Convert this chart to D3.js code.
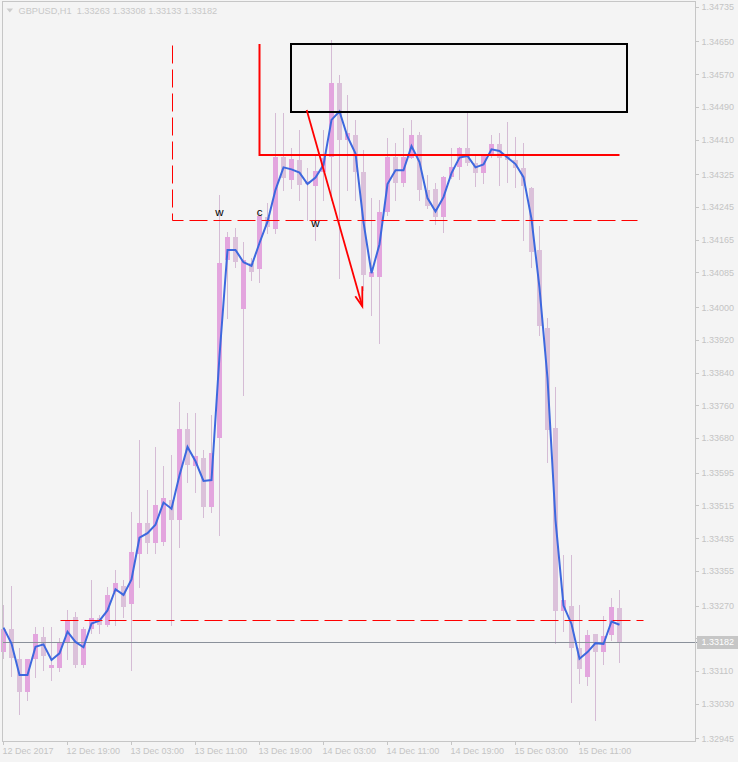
<!DOCTYPE html>
<html>
<head>
<meta charset="utf-8">
<script src="https://cdn.jsdelivr.net/npm/d3@7"></script>
<style>
  html, body { margin: 0; padding: 0; background: #f4f4f4; }
  svg { display: block; }
  text { font-family: "Liberation Sans", Arial, sans-serif; }
</style>
</head>
<body>
<script>
// GBPUSD H1, one bar per hour starting 12 Dec 2017 11:00
const opens = [
  1.33156,1.33212,1.33139,1.33058,1.33139,1.33193,1.33117,1.33117,1.33181,1.33242,
  1.33124,1.33212,1.33239,1.33222,1.33303,1.33318,1.33274,1.33396,1.33472,1.33423,
  1.33425,1.33528,1.33479,1.33702,1.33611,1.33631,1.33511,1.33680,1.34115,1.34172,
  1.33995,1.34108,1.34093,1.34221,1.34191,1.34367,1.34311,1.34360,1.34309,1.34296,
  1.34331,1.34367,1.34548,1.34409,1.34421,1.34331,1.34074,1.34074,1.34233,1.34367,
  1.34303,1.34365,1.34421,1.34287,1.34289,1.34221,1.34318,1.34343,1.34389,1.34353,
  1.34328,1.34370,1.34399,1.34372,1.34360,1.34340,1.34291,1.34140,1.33949,1.33704,
  1.33256,1.33269,1.33166,1.33095,1.33200,1.33156,1.33198,1.33263
];
const highs = [
  1.33271,1.33318,1.33166,1.33139,1.33217,1.33217,1.33217,1.33190,1.33259,1.33254,
  1.33217,1.33332,1.33247,1.33315,1.33357,1.33332,1.33499,1.33675,1.33553,1.33658,
  1.33611,1.33638,1.33768,1.33741,1.33741,1.33650,1.33736,1.34274,1.34184,1.34194,
  1.34159,1.34120,1.34230,1.34255,1.34475,1.34475,1.34389,1.34433,1.34340,1.34372,
  1.34433,1.34654,1.34568,1.34519,1.34458,1.34384,1.34267,1.34262,1.34414,1.34401,
  1.34438,1.34458,1.34428,1.34323,1.34304,1.34321,1.34389,1.34392,1.34475,1.34370,
  1.34372,1.34421,1.34426,1.34453,1.34416,1.34401,1.34294,1.34199,1.33973,1.33804,
  1.33393,1.33393,1.33271,1.33210,1.33200,1.33244,1.33288,1.33308
];
const lows = [
  1.33141,1.33097,1.33004,1.33039,1.33095,1.33112,1.33088,1.33110,1.33139,1.33119,
  1.33119,1.33203,1.33203,1.33220,1.33222,1.33242,1.33112,1.33315,1.33398,1.33398,
  1.33418,1.33222,1.33413,1.33572,1.33548,1.33486,1.33499,1.33442,1.33973,1.34098,
  1.33785,1.34066,1.34061,1.34181,1.34181,1.34287,1.34291,1.34262,1.34213,1.34164,
  1.34262,1.34262,1.34071,1.34287,1.34262,1.34042,1.33981,1.33912,1.34225,1.34262,
  1.34296,1.34365,1.34262,1.34242,1.34203,1.34184,1.34316,1.34313,1.34348,1.34296,
  1.34304,1.34367,1.34299,1.34306,1.34294,1.34164,1.34098,1.33932,1.33621,1.33178,
  1.33208,1.33034,1.33080,1.33075,1.32990,1.33127,1.33186,1.33133
];
const closes = [
  1.33212,1.33141,1.33058,1.33139,1.33200,1.33146,1.33124,1.33181,1.33234,1.33124,
  1.33212,1.33239,1.33222,1.33296,1.33325,1.33266,1.33401,1.33472,1.33423,1.33516,
  1.33533,1.33479,1.33702,1.33614,1.33636,1.33511,1.33643,1.34108,1.34172,1.34110,
  1.34115,1.34086,1.34223,1.34196,1.34367,1.34316,1.34362,1.34299,1.34301,1.34333,
  1.34365,1.34548,1.34409,1.34426,1.34331,1.34079,1.34086,1.34233,1.34367,1.34303,
  1.34367,1.34421,1.34287,1.34247,1.34221,1.34318,1.34343,1.34389,1.34353,1.34328,
  1.34372,1.34399,1.34365,1.34360,1.34340,1.34296,1.34135,1.33954,1.33699,1.33256,
  1.33283,1.33166,1.33115,1.33198,1.33156,1.33195,1.33266,1.33182
];
// blue moving average line
const maLine = [
  1.33216,1.33177,1.33100,1.33100,1.33169,1.33175,1.33137,1.33153,1.33206,1.33181,
  1.33168,1.33226,1.33233,1.33258,1.33310,1.33296,1.33334,1.33436,1.33447,1.33468,
  1.33522,1.33507,1.33589,1.33658,1.33623,1.33575,1.33577,1.33881,1.34140,1.34140,
  1.34110,1.34101,1.34157,1.34209,1.34287,1.34342,1.34337,1.34329,1.34301,1.34317,
  1.34348,1.34458,1.34479,1.34417,1.34376,1.34208,1.34083,1.34154,1.34301,1.34335,
  1.34335,1.34394,1.34355,1.34267,1.34234,1.34269,1.34328,1.34366,1.34370,1.34342,
  1.34349,1.34386,1.34382,1.34366,1.34350,1.34318,1.34216,1.34047,1.33826,1.33479,
  1.33270,1.33225,1.33140,1.33156,1.33178,1.33176,1.33231,1.33223
];

const priceLabels = [
  "1.34735","1.34650","1.34570","1.34490","1.34410","1.34325","1.34245","1.34165",
  "1.34085","1.34000","1.33920","1.33840","1.33760","1.33680","1.33595","1.33515",
  "1.33435","1.33355","1.33270","1.33190","1.33110","1.33030","1.32945"
];
const timeTickBars = [0, 8, 16, 24, 32, 40, 48, 56, 64, 72];
const timeLabels = [
  "12 Dec 2017","12 Dec 19:00","13 Dec 03:00","13 Dec 11:00","13 Dec 19:00",
  "14 Dec 03:00","14 Dec 11:00","14 Dec 19:00","15 Dec 03:00","15 Dec 11:00"
];

const bidPrice = 1.33182;
const headerText = "GBPUSD,H1  1.33263 1.33308 1.33133 1.33182";

// drawn objects, as [bar, price] anchors
const zoneBox = [[36, 1.34644], [78, 1.34477]];
const solidLevel = [[32, 1.34644], [32, 1.34371], [77, 1.34371]];
const dashedUpper = [[21.1, 1.34641], [21.1, 1.34213], [79.2, 1.34213]];
const dashedLower = [[7, 1.33235], [80, 1.33235]];
const arrowLine = [[37.9, 1.34482], [44.85, 1.34002]];
const waveText = ["w", "c", "w"];
const waveAnchors = [[27, 1.34224], [32, 1.34224], [39, 1.34195]];

const width = 738, height = 762;
const plotRight = 695, plotBottom = 741;

const svg = d3.select("body").append("svg")
  .attr("width", width)
  .attr("height", height);

svg.append("rect")
  .attr("width", width).attr("height", height)
  .attr("fill", "#f4f4f4");

const x = d3.scaleLinear().domain([0, 86]).range([3.5, 3.5 + 8 * 86]);
const y = d3.scaleLinear().domain([1.32945, 1.34735]).range([738.4, 6.7]);

// snap to pixel centre for 1px lines
const snap = v => Math.round(v) + 0.5;

const bars = opens.map((o, i) => ({ i, o, h: highs[i], l: lows[i], c: closes[i] }));

const plot = svg.append("g").attr("shape-rendering", "crispEdges");

// wicks
plot.selectAll("rect.wick")
  .data(bars)
  .join("rect")
  .attr("class", "wick")
  .attr("x", d => Math.floor(x(d.i)))
  .attr("width", 1)
  .attr("y", d => Math.round(y(d.h)))
  .attr("height", d => Math.round(y(d.l)) - Math.round(y(d.h)) + 1)
  .attr("fill", "#d5bcd5");

// bodies
plot.selectAll("rect.body")
  .data(bars)
  .join("rect")
  .attr("class", "body")
  .attr("x", d => Math.floor(x(d.i)) - 2)
  .attr("width", 5)
  .attr("y", d => Math.round(y(Math.max(d.o, d.c))))
  .attr("height", d => Math.max(1, Math.abs(Math.round(y(d.o)) - Math.round(y(d.c)))))
  .attr("fill", d => (d.c > d.o ? "#e3a5de" : "#dbc1da"));

// bid line
svg.append("line")
  .attr("x1", 3).attr("x2", 697)
  .attr("y1", snap(y(bidPrice)))
  .attr("y2", snap(y(bidPrice)))
  .style("stroke", "#8a909a")
  .attr("stroke-width", 1);

// moving average
svg.append("path")
  .datum(maLine)
  .attr("fill", "none")
  .style("stroke", "#3d68de")
  .attr("stroke-width", 2)
  .attr("d", d3.line().x((d, i) => x(i)).y(d => y(d)));

// dashed levels (one path each, so the dash runs on round the corner)
const snapped = d3.line().x(d => snap(x(d[0]))).y(d => snap(y(d[1])));

[dashedUpper, dashedLower].forEach(line => {
  svg.append("path")
    .attr("d", snapped(line))
    .attr("fill", "none")
    .style("stroke", "#ff0000")
    .attr("stroke-width", 1)
    .attr("stroke-dasharray", "18 6");
});

// solid level
const pts = d3.line().x(d => x(d[0])).y(d => y(d[1]));
svg.append("path")
  .attr("d", d3.line().x(d => Math.floor(x(d[0])) + 0.5).y(d => Math.round(y(d[1])))(solidLevel))
  .attr("fill", "none")
  .style("stroke", "#ff0000")
  .attr("stroke-width", 2);

// zone box
svg.append("rect")
  .attr("x", Math.floor(x(zoneBox[0][0])))
  .attr("y", Math.round(y(zoneBox[0][1])))
  .attr("width", Math.floor(x(zoneBox[1][0])) - Math.floor(x(zoneBox[0][0])))
  .attr("height", Math.round(y(zoneBox[1][1])) - Math.round(y(zoneBox[0][1])))
  .attr("fill", "none")
  .style("stroke", "#000")
  .attr("stroke-width", 2);

// arrow
const ax = x(arrowLine[1][0]), ay = y(arrowLine[1][1]);
svg.append("path")
  .attr("d", pts(arrowLine))
  .style("stroke", "#ff0000")
  .attr("stroke-width", 1.8)
  .attr("fill", "none");
svg.append("path")
  .attr("d", `M${ax - 7},${ay - 10}L${ax},${ay}L${ax},${ay - 20}`)
  .style("stroke", "#ff0000")
  .attr("stroke-width", 1.8)
  .attr("fill", "none");

// wave letters
svg.selectAll("text.wave")
  .data(waveText)
  .join("text")
  .attr("class", "wave")
  .attr("x", (d, i) => x(waveAnchors[i][0]))
  .attr("y", (d, i) => y(waveAnchors[i][1]))
  .attr("text-anchor", "middle")
  .attr("font-family", "'Liberation Serif', 'DejaVu Serif', serif")
  .attr("font-size", 11.5)
  .attr("fill", "#000")
  .text(d => d);

// frame
svg.append("path")
  .attr("d", `M2.5,${plotBottom + 0.5}V1.5H${plotRight + 0.5}V${plotBottom + 0.5}H2.5`)
  .attr("fill", "none")
  .style("stroke", "#c6c6c6")
  .attr("shape-rendering", "crispEdges");

// price axis
const yAxis = svg.append("g");
yAxis.selectAll("line")
  .data(priceLabels)
  .join("line")
  .attr("x1", plotRight).attr("x2", plotRight + 4)
  .attr("y1", d => snap(y(+d)))
  .attr("y2", d => snap(y(+d)))
  .style("stroke", "#c6c6c6");
yAxis.selectAll("text")
  .data(priceLabels)
  .join("text")
  .attr("x", 701.5)
  .attr("y", d => y(+d) + 3.5)
  .attr("font-size", 9)
  .attr("fill", "#c4c4c4")
  .text(d => d);

// bid label
const by = y(bidPrice);
svg.append("rect")
  .attr("x", 697).attr("y", Math.round(by) - 6)
  .attr("width", 41).attr("height", 13)
  .attr("fill", "#c6c6c6");
svg.append("text")
  .attr("x", 701.5).attr("y", by + 3.5)
  .attr("font-size", 9)
  .attr("fill", "#ffffff")
  .text(bidPrice.toFixed(5));

// time axis
const xAxis = svg.append("g");
xAxis.selectAll("line")
  .data(timeTickBars)
  .join("line")
  .attr("x1", d => Math.floor(x(d)) + 0.5)
  .attr("x2", d => Math.floor(x(d)) + 0.5)
  .attr("y1", plotBottom).attr("y2", plotBottom + 4)
  .style("stroke", "#c6c6c6");
xAxis.selectAll("text")
  .data(timeLabels)
  .join("text")
  .attr("x", (d, i) => Math.floor(x(timeTickBars[i])) - 0.5)
  .attr("y", 754)
  .attr("font-size", 9)
  .attr("fill", "#c4c4c4")
  .text(d => d);

// header
svg.append("path")
  .attr("d", "M6.5,8.5L13,8.5L9.75,12.5Z")
  .attr("fill", "#cdcdcd");
svg.append("text")
  .attr("x", 18.5).attr("y", 14)
  .attr("font-size", 9.2)
  .attr("fill", "#c8c8c8")
  .attr("xml:space", "preserve")
  .style("white-space", "pre")
  .text(headerText);
</script>
</body>
</html>
